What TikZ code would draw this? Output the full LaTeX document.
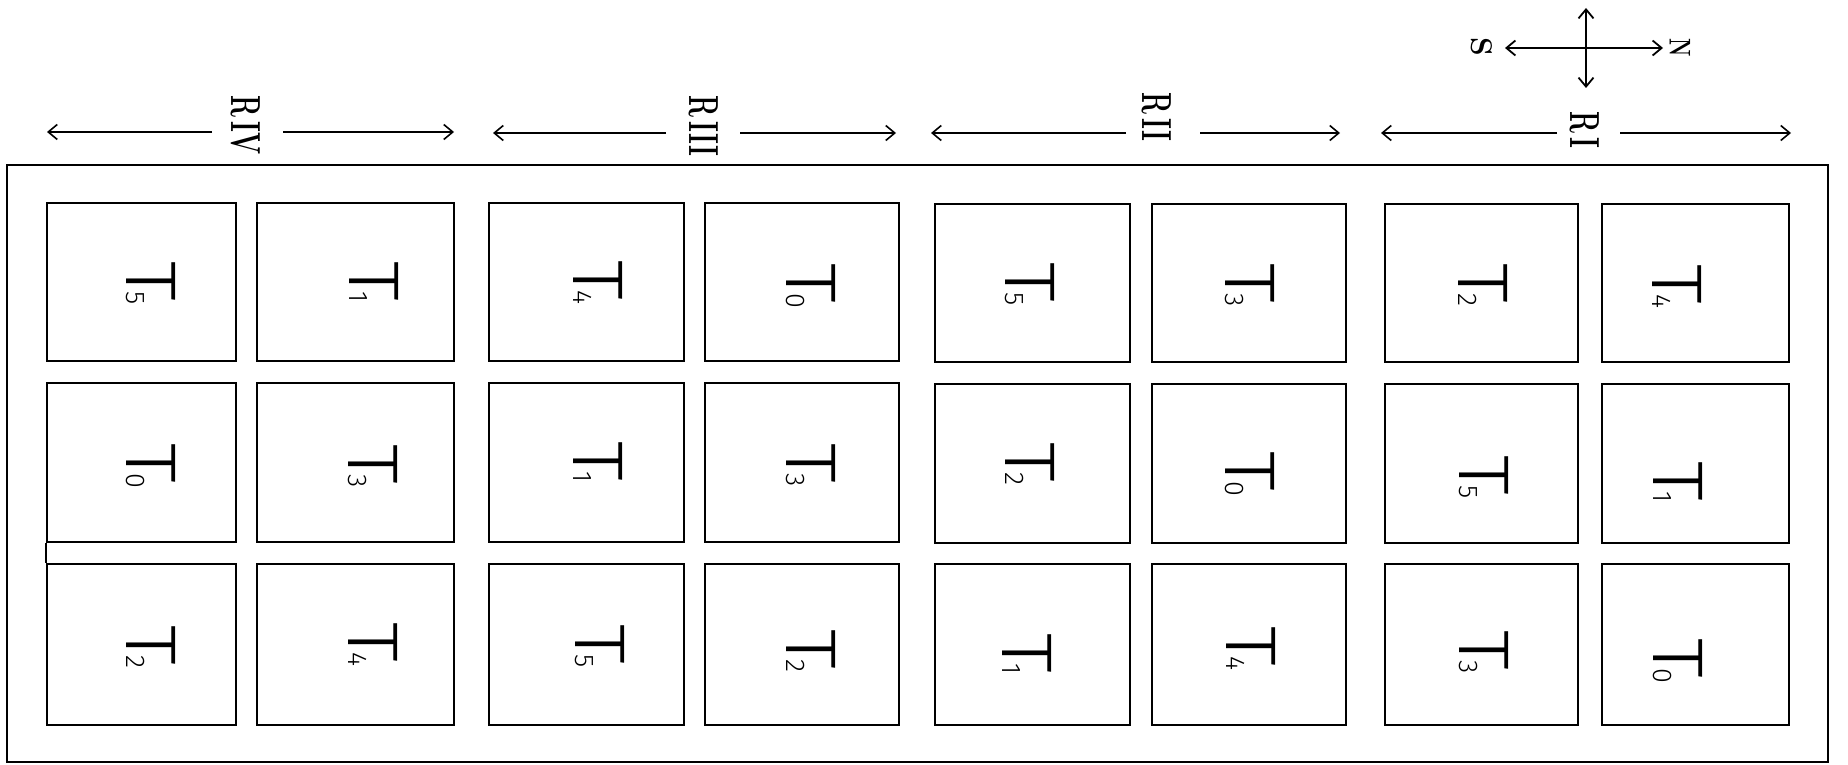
\documentclass[tikz,border=0pt]{standalone}
\usepackage{fontspec}
\usepackage{graphicx}
\usetikzlibrary{arrows.meta}
\IfFontExistsTF{Fira Sans Light}{\newfontfamily\tfont{Fira Sans Light}\newcommand\tsc{1.25}}{%
 \IfFontExistsTF{DejaVu Sans ExtraLight}{\newfontfamily\tfont{DejaVu Sans ExtraLight}\newcommand\tsc{1.0}}{%
  \IfFontExistsTF{Lato Light}{\newfontfamily\tfont{Lato Light}\newcommand\tsc{1.1}}{%
   \newfontfamily\tfont{Latin Modern Sans}\newcommand\tsc{1.0}}}}
\tikzset{
  cellbox/.style={draw, line width=2pt, inner sep=0pt, minimum width=#1},
  tlabel/.style={rotate=-90, anchor=north west, inner sep=0pt, font=\tfont},
  rlabel/.style={rotate=-90, inner sep=0pt, font=\bfseries\fontsize{42}{42}\selectfont},
  dirlabel/.style={rotate=-90, inner sep=0pt, font=\bfseries\fontsize{30}{30}\selectfont},
  dimarrow/.style={line width=1.6pt, -{Straight Barb[length=9pt,width=15pt,line width=1.6pt]}},
  comparrow/.style={line width=1.8pt, {Straight Barb[length=9pt,width=15pt,line width=1.8pt]}-{Straight Barb[length=9pt,width=15pt,line width=1.8pt]}},
  frame/.style={draw, line width=1.8pt}
}
\newcommand\tcell[9]{%
  % #1 name, #2 x1, #3 y1, #4 x2, #5 y2, #6 digit, #7 bar x, #8 bar centre y
  \node[cellbox={(#4-#2)*1pt}, minimum height={(#5-#3)*1pt}] (#1) at ({(#2+#4)/2},{(#3+#5)/2}) {};
  \node[tlabel] (#1t) at (#7,{#8-22}) {\scalebox{\tsc}[1.12]{\fontsize{64}{64}\selectfont T}\kern-9pt{\fontsize{27}{27}\selectfont #6}};%
}
\begin{document}
\begin{tikzpicture}[x=1pt,y=-1pt]
\useasboundingbox (0,0) rectangle (1848,765);
% outer frame
\node[frame, minimum width=1821pt, minimum height=597pt, inner sep=0pt] (outer) at (917.5,463.5) {};
% row 1
\tcell{a1}{47}{203}{236}{361}{5}{176}{283}{}
\tcell{a2}{257}{203}{454}{361}{1}{399}{283}{}
\tcell{a3}{489}{203}{684}{361}{4}{623}{282}{}
\tcell{a4}{705}{203}{899}{361}{0}{836}{285}{}
\tcell{a5}{935}{204}{1130}{362}{5}{1055}{284}{}
\tcell{a6}{1152}{204}{1346}{362}{3}{1275}{285}{}
\tcell{a7}{1385}{204}{1578}{362}{2}{1508}{285}{}
\tcell{a8}{1602}{204}{1789}{362}{4}{1702}{286}{}
% row 2
\tcell{b1}{47}{383}{236}{542}{0}{176}{465}{}
\tcell{b2}{257}{383}{454}{542}{3}{398}{466}{}
\tcell{b3}{489}{383}{684}{542}{1}{623}{463}{}
\tcell{b4}{705}{383}{899}{542}{3}{836}{465}{}
\tcell{b5}{935}{384}{1130}{543}{2}{1055}{464}{}
\tcell{b6}{1152}{384}{1346}{543}{0}{1275}{473}{}
\tcell{b7}{1385}{384}{1578}{543}{5}{1509}{477}{}
\tcell{b8}{1602}{384}{1789}{543}{1}{1703}{483}{}
% row 3
\tcell{c1}{47}{564}{236}{725}{2}{176}{647}{}
\tcell{c2}{257}{564}{454}{725}{4}{398}{644}{}
\tcell{c3}{489}{564}{684}{725}{5}{625}{646}{}
\tcell{c4}{705}{564}{899}{725}{2}{836}{651}{}
\tcell{c5}{935}{564}{1130}{725}{1}{1052}{655}{}
\tcell{c6}{1152}{564}{1346}{725}{4}{1276}{648}{}
\tcell{c7}{1385}{564}{1578}{725}{3}{1509}{652}{}
\tcell{c8}{1602}{564}{1789}{725}{0}{1703}{660}{}
% joining stroke between b1 and c1
\draw[line width=2pt] (b1.south west) -- (c1.north west);
% range labels
\node[rlabel] (r4) at (246,125) {\scalebox{0.62}[1]{R\,IV}};
\node[rlabel] (r3) at (704,126) {\scalebox{0.62}[1]{R\,III}};
\node[rlabel] (r2) at (1157,117) {\scalebox{0.62}[1]{R\,II}};
\node[rlabel] (r1) at (1585,130) {\scalebox{0.62}[1]{R\,I}};
% arrow end points
\coordinate (r4a) at (212,132); \coordinate (r4l) at (47,132);
\coordinate (r4b) at (283,132); \coordinate (r4r) at (454,132);
\coordinate (r3a) at (666,133); \coordinate (r3l) at (493,133);
\coordinate (r3b) at (740,133); \coordinate (r3r) at (896,133);
\coordinate (r2a) at (1126,133); \coordinate (r2l) at (931,133);
\coordinate (r2b) at (1200,133); \coordinate (r2r) at (1340,133);
\coordinate (r1a) at (1557,133); \coordinate (r1l) at (1381,133);
\coordinate (r1b) at (1620,133); \coordinate (r1r) at (1791,133);
\draw[dimarrow] (r4a) -- (r4l);
\draw[dimarrow] (r4b) -- (r4r);
\draw[dimarrow] (r3a) -- (r3l);
\draw[dimarrow] (r3b) -- (r3r);
\draw[dimarrow] (r2a) -- (r2l);
\draw[dimarrow] (r2b) -- (r2r);
\draw[dimarrow] (r1a) -- (r1l);
\draw[dimarrow] (r1b) -- (r1r);
% compass
\coordinate (cup) at (1586,8);
\coordinate (cdown) at (1586,88);
\coordinate (cwest) at (1505,48);
\coordinate (ceast) at (1663,48);
\draw[comparrow] (cdown) -- (cup);
\draw[comparrow] (cwest) -- (ceast);
\node[dirlabel] (south) at (1482,47) {S};
\node[dirlabel] (north) at (1680,48) {\scalebox{0.7}[1]{N}};
\end{tikzpicture}
\end{document}
